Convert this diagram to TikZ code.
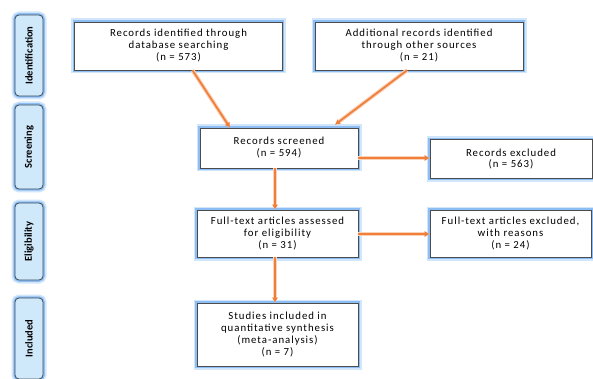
\documentclass[tikz,border=0pt]{standalone}
\usepackage{fontspec}
\setmainfont{Carlito}[LetterSpace=9]
\usetikzlibrary{arrows.meta}
\definecolor{glowblue}{HTML}{8CBDF4}
\definecolor{sidefill}{HTML}{CFE9FB}
\definecolor{sideline}{HTML}{3E4A57}
\definecolor{flow}{HTML}{F07F3A}
\tikzset{
    glow/.style={preaction={draw=glowblue!40,line width=7pt},
                 preaction={draw=glowblue,line width=3.5pt}},
    stage/.style={glow,draw=sideline,line width=0.8pt,fill=sidefill,
                  rounded corners=4pt,minimum width=28pt,inner sep=0pt,
                  font=\fontsize{10.5}{11}\selectfont\bfseries\addfontfeature{LetterSpace=0}},
    box/.style={glow,draw=black!70,line width=0.6pt,fill=white,inner sep=0pt,
                align=center,font=\fontsize{10.8}{12}\selectfont},
    flowline/.style={preaction={draw=flow!35,line width=4pt},
                     draw=flow,line width=1.8pt,-{Latex[length=5pt,width=6pt]}}
}
\begin{document}
\begin{tikzpicture}[x=1pt,y=-1pt]
    \useasboundingbox (0,0) rectangle (593,379);

    % Stages on the left
    \node[stage,minimum height=81pt] (sid) at (29,55.5) {\rotatebox{90}{Identification}};
    \node[stage,minimum height=84pt] (sscr) at (29,147) {\rotatebox{90}{Screening}};
    \node[stage,minimum height=77pt] (selig) at (29,241.5) {\rotatebox{90}{Eligibility}};
    \node[stage,minimum height=81pt] (sinc) at (29,338.5) {\rotatebox{90}{Included}};

    % Identification
    \node[box,minimum width=208pt,minimum height=48pt] (rid) at (178.5,46)
        {Records identified through\\database searching\\(n = 573)};
    \node[box,minimum width=208pt,minimum height=48pt] (add) at (419,46)
        {Additional records identified\\through other sources\\(n = 21)};

    % Screening
    \node[box,minimum width=158pt,minimum height=40pt] (scr) at (279,148)
        {Records screened\\(n = 594)};
    \node[box,minimum width=162pt,minimum height=39pt] (exc) at (511,159)
        {Records excluded\\(n = 563)};

    % Eligibility
    \node[box,minimum width=161pt,minimum height=47pt] (ft) at (277.5,233.5)
        {Full-text articles assessed\\for eligibility\\(n = 31)};
    \node[box,minimum width=161pt,minimum height=47pt] (fte) at (510.5,233.5)
        {Full-text articles excluded,\\with reasons\\(n = 24)};

    % Included
    \node[box,minimum width=161pt,minimum height=63pt] (inc) at (277.5,334.5)
        {Studies included in\\quantitative synthesis\\(meta-analysis)\\(n = 7)};

    % Arrows
    \draw[flowline] ([xshift=14pt]rid.south) -- ([xshift=-49pt]scr.north);
    \draw[flowline] ([xshift=-12pt]add.south) -- ([xshift=56pt,yshift=3pt]scr.north);
    \draw[flowline] ([yshift=-10pt]scr.east) -- ([yshift=-10pt]scr.east -| exc.west);
    \draw[flowline] ([xshift=-4pt]scr.south) -- ([xshift=-4pt]scr.south |- ft.north);
    \draw[flowline] ([yshift=-0.5pt]ft.east) -- ([yshift=-0.5pt]ft.east -| fte.west);
    \draw[flowline] ([xshift=-2.5pt]ft.south) -- ([xshift=-2.5pt]ft.south |- inc.north);
\end{tikzpicture}
\end{document}
